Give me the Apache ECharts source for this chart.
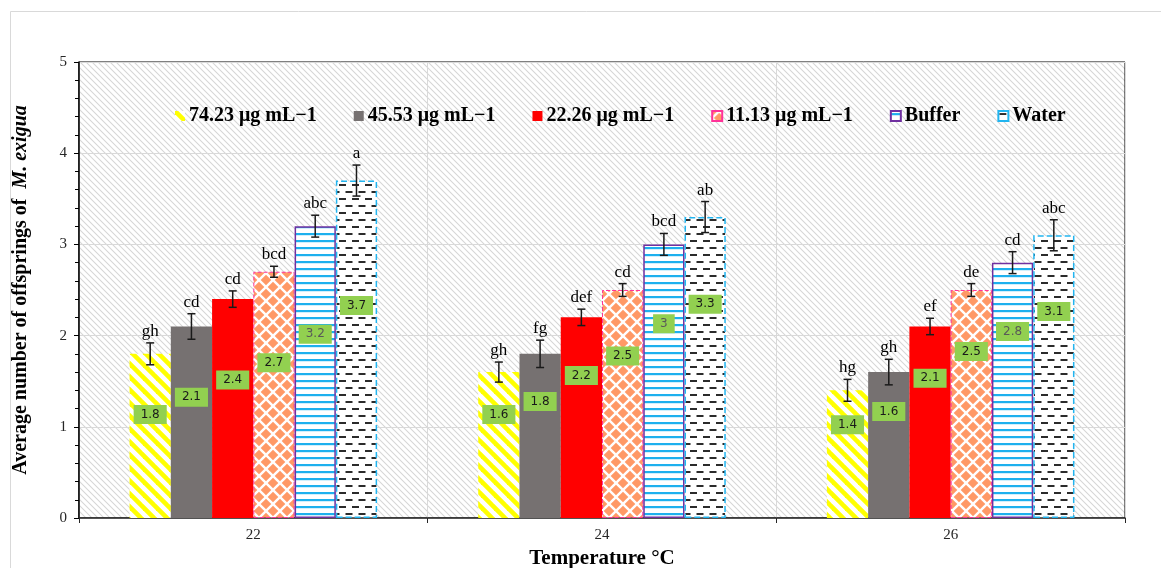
<!DOCTYPE html>
<html>
<head>
<meta charset="utf-8">
<script src="https://cdn.jsdelivr.net/npm/echarts@6/dist/echarts.min.js"></script>
<style>html,body{margin:0;padding:0;background:#fff}#c{width:1161px;height:568px}</style>
</head>
<body>
<div id="c"></div>
<script>
const categories = ['22', '24', '26'];
const seriesNames = ['74.23 μg mL−1', '45.53 μg mL−1', '22.26 μg mL−1', '11.13 μg mL−1', 'Buffer', 'Water'];
const v74 = [1.8, 1.6, 1.4];
const v45 = [2.1, 1.8, 1.6];
const v22 = [2.4, 2.2, 2.1];
const v11 = [2.7, 2.5, 2.5];
const vBuf = [3.2, 3.0, 2.8];
const vWat = [3.7, 3.3, 3.1];
const e74 = [0.12, 0.11, 0.12];
const e45 = [0.14, 0.15, 0.14];
const e22 = [0.09, 0.09, 0.09];
const e11 = [0.06, 0.07, 0.07];
const eBuf = [0.12, 0.12, 0.12];
const eWat = [0.17, 0.17, 0.17];
const l74 = ['gh', 'gh', 'hg'];
const l45 = ['cd', 'fg', 'gh'];
const l22 = ['cd', 'def', 'ef'];
const l11 = ['bcd', 'cd', 'de'];
const lBuf = ['abc', 'bcd', 'cd'];
const lWat = ['a', 'ab', 'abc'];

const values = [v74, v45, v22, v11, vBuf, vWat];
const errs = [e74, e45, e22, e11, eBuf, eWat];
const letters = [l74, l45, l22, l11, lBuf, lWat];

// layout only: where the green value boxes sit inside the bars (fraction of bar height), per temperature group
const labelFrac = [0.63, 0.71, 0.73];

function tile(w, h, draw) {
  const cv = document.createElement('canvas');
  cv.width = w; cv.height = h;
  const ctx = cv.getContext('2d');
  ctx.fillStyle = '#fff'; ctx.fillRect(0, 0, w, h);
  draw(ctx, w, h);
  return { image: cv, repeat: 'repeat' };
}
function diagLines(color, lw) {
  return function (ctx, n) {
    ctx.strokeStyle = color; ctx.lineWidth = lw;
    for (let k = -1; k <= 1; k++) {
      ctx.beginPath(); ctx.moveTo(k * n - 2, -2); ctx.lineTo(k * n + n + 2, n + 2); ctx.stroke();
    }
  };
}
const bgPattern = tile(6, 6, diagLines('#d6d6d6', 1.1));
const yellowPattern = tile(13, 13, diagLines('#FFFF00', 4.6));
const diamondPattern = tile(14, 14, function (ctx) {
  ctx.fillStyle = '#FF9966';
  const h = 5.3;
  const centers = [[0, 0], [14, 0], [0, 14], [14, 14], [7, 7]];
  centers.forEach(function (c) {
    ctx.beginPath();
    ctx.moveTo(c[0], c[1] - h); ctx.lineTo(c[0] + h, c[1]);
    ctx.lineTo(c[0], c[1] + h); ctx.lineTo(c[0] - h, c[1]);
    ctx.closePath(); ctx.fill();
  });
});
const linesPattern = tile(4, 7, function (ctx) {
  ctx.fillStyle = '#1DB0EE';
  ctx.fillRect(0, 2, 4, 2.2);
});
const dashPattern = tile(13, 14, function (ctx) {
  ctx.fillStyle = '#2b2b2b';
  ctx.fillRect(1, 2, 7, 2);
  ctx.fillRect(7.5, 9, 7, 2);
  ctx.fillRect(-5.5, 9, 7, 2);
});

const serif = 'Liberation Serif';
const styles = [
  { color: yellowPattern },
  { color: '#767171' },
  { color: '#FF0000' },
  { color: diamondPattern, borderColor: '#FF3399', borderWidth: 1, borderType: 'dashed' },
  { color: linesPattern, borderColor: '#7030A0', borderWidth: 1.5 },
  { color: dashPattern, borderColor: '#22B5F0', borderWidth: 1.5, borderType: 'dashed' }
];

const gapRatio = 0.29;
const series = seriesNames.map((nm, s) => ({
  name: nm,
  type: 'bar',
  barGap: '0%',
  barCategoryGap: (gapRatio * 100) + '%',
  itemStyle: styles[s],
  data: values[s],
  z: 3
}));

const errData = [];
for (let c = 0; c < categories.length; c++) {
  for (let s = 0; s < seriesNames.length; s++) {
    errData.push([c, values[s][c] + errs[s][c]]);
  }
}

series.push({
  type: 'custom',
  z: 10,
  silent: true,
  data: errData,
  renderItem: function (params, api) {
    const i = params.dataIndex;
    const c = Math.floor(i / 6), s = i % 6;
    const v = values[s][c], e = errs[s][c];
    const band = api.size([1, 0])[0];
    const group = band * (1 - gapRatio);
    const bw = group / 6;
    const center = api.coord([c, 0])[0];
    const x = center - group / 2 + bw * (s + 0.5);
    const yt = api.coord([c, v + e])[1];
    const yb = api.coord([c, v - e])[1];
    const yl = api.coord([c, v * labelFrac[c]])[1];
    const cap = 4;
    const st = { stroke: '#1a1a1a', lineWidth: 1.5 };
    return {
      type: 'group',
      children: [
        { type: 'text', style: { text: String(v), x: x, y: yl, textAlign: 'center', textVerticalAlign: 'middle', font: '12px "DejaVu Sans"', fill: s === 4 ? '#595959' : '#1a1a1a', backgroundColor: '#92D050', padding: [4, 7, 3, 7] } },
        { type: 'line', shape: { x1: x, y1: yt, x2: x, y2: yb }, style: st },
        { type: 'line', shape: { x1: x - cap, y1: yt, x2: x + cap, y2: yt }, style: st },
        { type: 'line', shape: { x1: x - cap, y1: yb, x2: x + cap, y2: yb }, style: st },
        { type: 'text', style: { text: letters[s][c], x: x, y: yt - 3, textAlign: 'center', textVerticalAlign: 'bottom', font: '17px "Liberation Serif"', fill: '#000' } }
      ]
    };
  }
});

const chart = echarts.init(document.getElementById('c'), null, { renderer: 'canvas' });
chart.setOption({
  animation: false,
  backgroundColor: '#fff',
  graphic: [{
    type: 'rect', shape: { x: 10.5, y: 11.5, width: 1300, height: 700 },
    style: { fill: 'none', stroke: '#d9d9d9', lineWidth: 1 }, z: -10
  }],
  grid: {
    left: 79, right: 36, top: 62, bottom: 50,
    outerBoundsMode: 'none',
    containLabel: false,
    show: true,
    backgroundColor: bgPattern,
    borderColor: '#000', borderWidth: 1
  },
  legend: {
    data: seriesNames,
    icon: 'rect',
    left: 170, top: 101,
    itemWidth: 10, itemHeight: 10,
    itemGap: 37,
    textStyle: { fontFamily: serif, fontWeight: 'bold', fontSize: 20, color: '#000', padding: [0, 0, 0, -1] }
  },
  xAxis: {
    type: 'category',
    data: categories,
    name: 'Temperature °C',
    nameLocation: 'middle',
    nameGap: 30,
    nameTextStyle: { fontFamily: serif, fontWeight: 'bold', fontSize: 21, color: '#000' },
    axisLine: { lineStyle: { color: '#262626', width: 1.5 } },
    axisTick: { show: true, length: 5, lineStyle: { color: '#262626' } },
    axisLabel: { fontFamily: serif, fontSize: 15, color: '#262626', margin: 10 },
    splitLine: { show: true, lineStyle: { color: '#d9d9d9', width: 1 } }
  },
  yAxis: {
    type: 'value',
    min: 0, max: 5, interval: 1,
    name: 'Average number of offsprings of  {i|M. exigua}',
    nameLocation: 'middle',
    nameGap: 48,
    nameTextStyle: {
      fontFamily: serif, fontWeight: 'bold', fontSize: 20, color: '#000',
      rich: { i: { fontFamily: serif, fontWeight: 'bold', fontStyle: 'italic', fontSize: 20, color: '#000' } }
    },
    axisLine: { show: true, lineStyle: { color: '#000', width: 1.5 } },
    axisTick: { show: true, length: 5, lineStyle: { color: '#000' } },
    minorTick: { show: true, splitNumber: 5, length: 4, lineStyle: { color: '#000' } },
    axisLabel: { fontFamily: serif, fontSize: 15, color: '#262626', margin: 12 },
    splitLine: { show: true, lineStyle: { color: '#d9d9d9', width: 1 } }
  },
  series: series
});
</script>
</body>
</html>
